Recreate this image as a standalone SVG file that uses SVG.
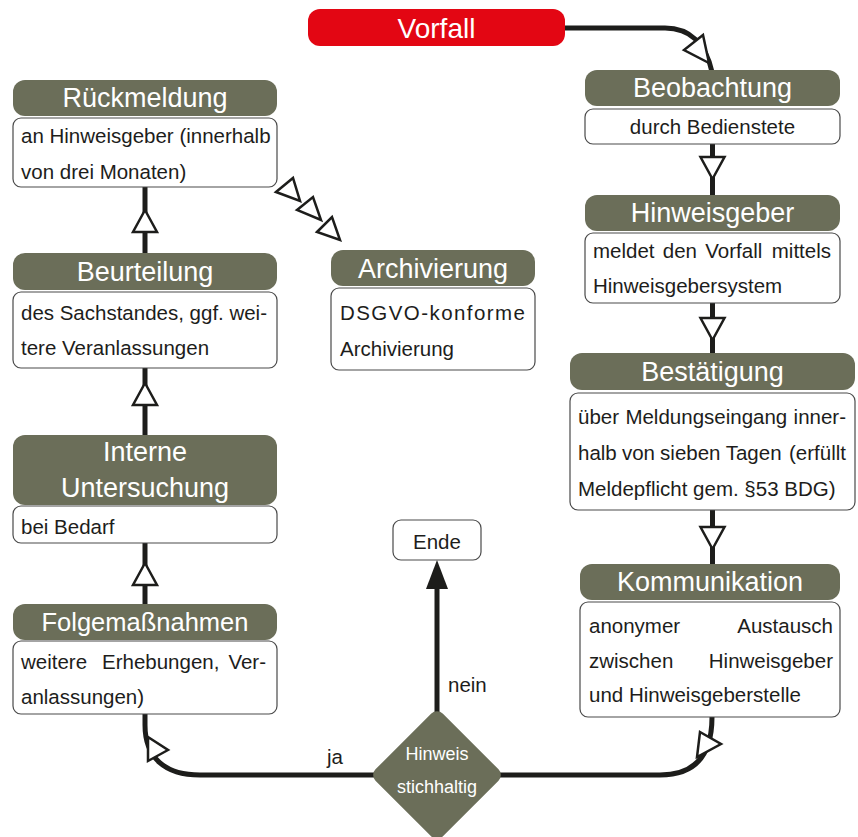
<svg xmlns="http://www.w3.org/2000/svg" width="858" height="837" viewBox="0 0 858 837">
<style>
.hd{fill:#6b6e59}
.bd{fill:#ffffff;stroke:#4a4a4a;stroke-width:1.2}
.ht{font-family:"Liberation Sans",Arial,sans-serif;font-size:27px;fill:#ffffff;text-anchor:middle}
.bt{font-family:"Liberation Sans",Arial,sans-serif;font-size:20.5px;fill:#1d1d1b}
.e{text-anchor:end}
.m{text-anchor:middle}
.dt{font-family:"Liberation Sans",Arial,sans-serif;font-size:18px;fill:#ffffff;text-anchor:middle}
.ln{fill:none;stroke:#1d1d1b;stroke-width:5}
.ah{fill:#ffffff;stroke:#1d1d1b;stroke-width:2.5;stroke-linejoin:miter}
.af{fill:#1d1d1b;stroke:none}
</style>
<rect width="858" height="837" fill="#ffffff"/>
<g id="connectors">
<path class="ln" d="M560,28 H665 C690,28 706,44 712,72"/>
<polygon class="ah" points="703,35 684,50 709,63"/>
<path class="ln" d="M712.5,144 V195"/>
<polygon class="ah" points="700.5,157 724.5,157 712.5,179"/>
<path class="ln" d="M712.5,303 V353"/>
<polygon class="ah" points="700.5,318 724.5,318 712.5,340"/>
<path class="ln" d="M712.5,510 V564"/>
<polygon class="ah" points="700.5,527 724.5,527 712.5,549"/>
<path class="ln" d="M712,717 C712,755 695,775 660,775 H495"/>
<polygon class="ah" points="700,732 721,744 697,757"/>
<path class="ln" d="M437,715 V585"/>
<polygon class="af" points="426,589 448,589 437,560"/>
<path class="ln" d="M378,775 H200 C165,775 145,758 145,725 V714"/>
<polygon class="ah" points="148,737 168,750 148,761"/>
<path class="ln" d="M145,604 V543"/>
<polygon class="ah" points="145,563 133,585 157,585"/>
<path class="ln" d="M145,435 V368"/>
<polygon class="ah" points="145,383 133,405 157,405"/>
<path class="ln" d="M145,253 V187"/>
<polygon class="ah" points="145,210 133,232 157,232"/>
<polygon class="ah" points="276,192 293,178 300,201"/>
<polygon class="ah" points="297,210 313,197 321,220"/>
<polygon class="ah" points="317,232 332,217 340,240"/>
</g>
<g id="vorfall">
<rect x="308" y="9" width="257" height="37" rx="12" fill="#e30613"/>
<text class="ht" x="436.5" y="38" style="font-size:28px">Vorfall</text>
</g>
<g id="beobachtung">
<rect class="hd" x="585" y="70" width="255" height="36" rx="12"/>
<text class="ht" x="712.5" y="97">Beobachtung</text>
<rect class="bd" x="585" y="109" width="255" height="35" rx="8"/>
<text class="bt m" x="712.5" y="134">durch Bedienstete</text>
</g>
<g id="hinweisgeber">
<rect class="hd" x="585" y="195" width="255" height="36" rx="12"/>
<text class="ht" x="712.5" y="222">Hinweisgeber</text>
<rect class="bd" x="585" y="233" width="255" height="70" rx="8"/>
<text class="bt" x="593" y="258">meldet</text>
<text class="bt" x="662.8" y="258">den</text>
<text class="bt" x="705.3" y="258">Vorfall</text>
<text class="bt e" x="831" y="258">mittels</text>
<text class="bt" x="593" y="293">Hinweisgebersystem</text>
</g>
<g id="bestaetigung">
<rect class="hd" x="570" y="353" width="285" height="37" rx="12"/>
<text class="ht" x="712.5" y="381">Bestätigung</text>
<rect class="bd" x="570" y="393" width="285" height="117" rx="8"/>
<text class="bt" x="578" y="424">über</text>
<text class="bt" x="625.4" y="424">Meldungseingang</text>
<text class="bt e" x="846" y="424">inner-</text>
<text class="bt" x="578" y="460">halb</text>
<text class="bt" x="621.9" y="460">von</text>
<text class="bt" x="660.1" y="460">sieben</text>
<text class="bt" x="725.7" y="460">Tagen</text>
<text class="bt e" x="846" y="460">(erfüllt</text>
<text class="bt" x="578" y="496">Meldepflicht gem. §53 BDG)</text>
</g>
<g id="kommunikation">
<rect class="hd" x="580" y="564" width="260" height="36" rx="12"/>
<text class="ht" x="710" y="591">Kommunikation</text>
<rect class="bd" x="580" y="602" width="260" height="115" rx="8"/>
<text class="bt" x="589" y="633">anonymer</text>
<text class="bt e" x="833" y="633">Austausch</text>
<text class="bt" x="589" y="668">zwischen</text>
<text class="bt e" x="833" y="668">Hinweisgeber</text>
<text class="bt" x="589" y="702">und Hinweisgeberstelle</text>
</g>
<g id="rueckmeldung">
<rect class="hd" x="13" y="80" width="264" height="36" rx="12"/>
<text class="ht" x="145" y="107">Rückmeldung</text>
<rect class="bd" x="13" y="118" width="264" height="69" rx="8"/>
<text class="bt" x="21" y="143">an Hinweisgeber (innerhalb</text>
<text class="bt" x="21" y="179">von drei Monaten)</text>
</g>
<g id="beurteilung">
<rect class="hd" x="13" y="253" width="264" height="37" rx="12"/>
<text class="ht" x="145" y="281">Beurteilung</text>
<rect class="bd" x="13" y="292" width="264" height="76" rx="8"/>
<text class="bt" x="21" y="320">des</text>
<text class="bt" x="59.7" y="320">Sachstandes,</text>
<text class="bt" x="189.6" y="320">ggf.</text>
<text class="bt e" x="267" y="320">wei-</text>
<text class="bt" x="21" y="355">tere Veranlassungen</text>
</g>
<g id="interne-untersuchung">
<rect class="hd" x="13" y="435" width="264" height="70" rx="12"/>
<text class="ht" x="145" y="461">Interne</text>
<text class="ht" x="145" y="497">Untersuchung</text>
<rect class="bd" x="13" y="506" width="264" height="37" rx="8"/>
<text class="bt" x="21" y="534">bei Bedarf</text>
</g>
<g id="folgemassnahmen">
<rect class="hd" x="13" y="604" width="264" height="36" rx="12"/>
<text class="ht" x="145" y="631" style="font-size:25.5px">Folgemaßnahmen</text>
<rect class="bd" x="13" y="641" width="264" height="73" rx="8"/>
<text class="bt" x="21" y="669">weitere</text>
<text class="bt" x="102" y="669">Erhebungen,</text>
<text class="bt e" x="266" y="669">Ver-</text>
<text class="bt" x="21" y="704">anlassungen)</text>
</g>
<g id="archivierung">
<rect class="hd" x="331" y="250" width="204" height="36" rx="12"/>
<text class="ht" x="433" y="278">Archivierung</text>
<rect class="bd" x="331" y="288" width="204" height="82" rx="8"/>
<text class="bt" x="340" y="320" textLength="185" lengthAdjust="spacing">DSGVO-konforme</text>
<text class="bt" x="340" y="356">Archivierung</text>
</g>
<g id="ende">
<rect class="bd" x="393" y="520" width="88" height="40" rx="8"/>
<text class="bt m" x="437" y="549">Ende</text>
</g>
<g id="entscheidung">
<rect class="hd" x="389.5" y="727.5" width="95" height="95" rx="8" transform="rotate(45 437 775)"/>
<text class="dt" x="437" y="760">Hinweis</text>
<text class="dt" x="437" y="793">stichhaltig</text>
</g>
<g id="labels">
<text class="bt" x="448" y="692">nein</text>
<text class="bt" x="327" y="764">ja</text>
</g>
</svg>
